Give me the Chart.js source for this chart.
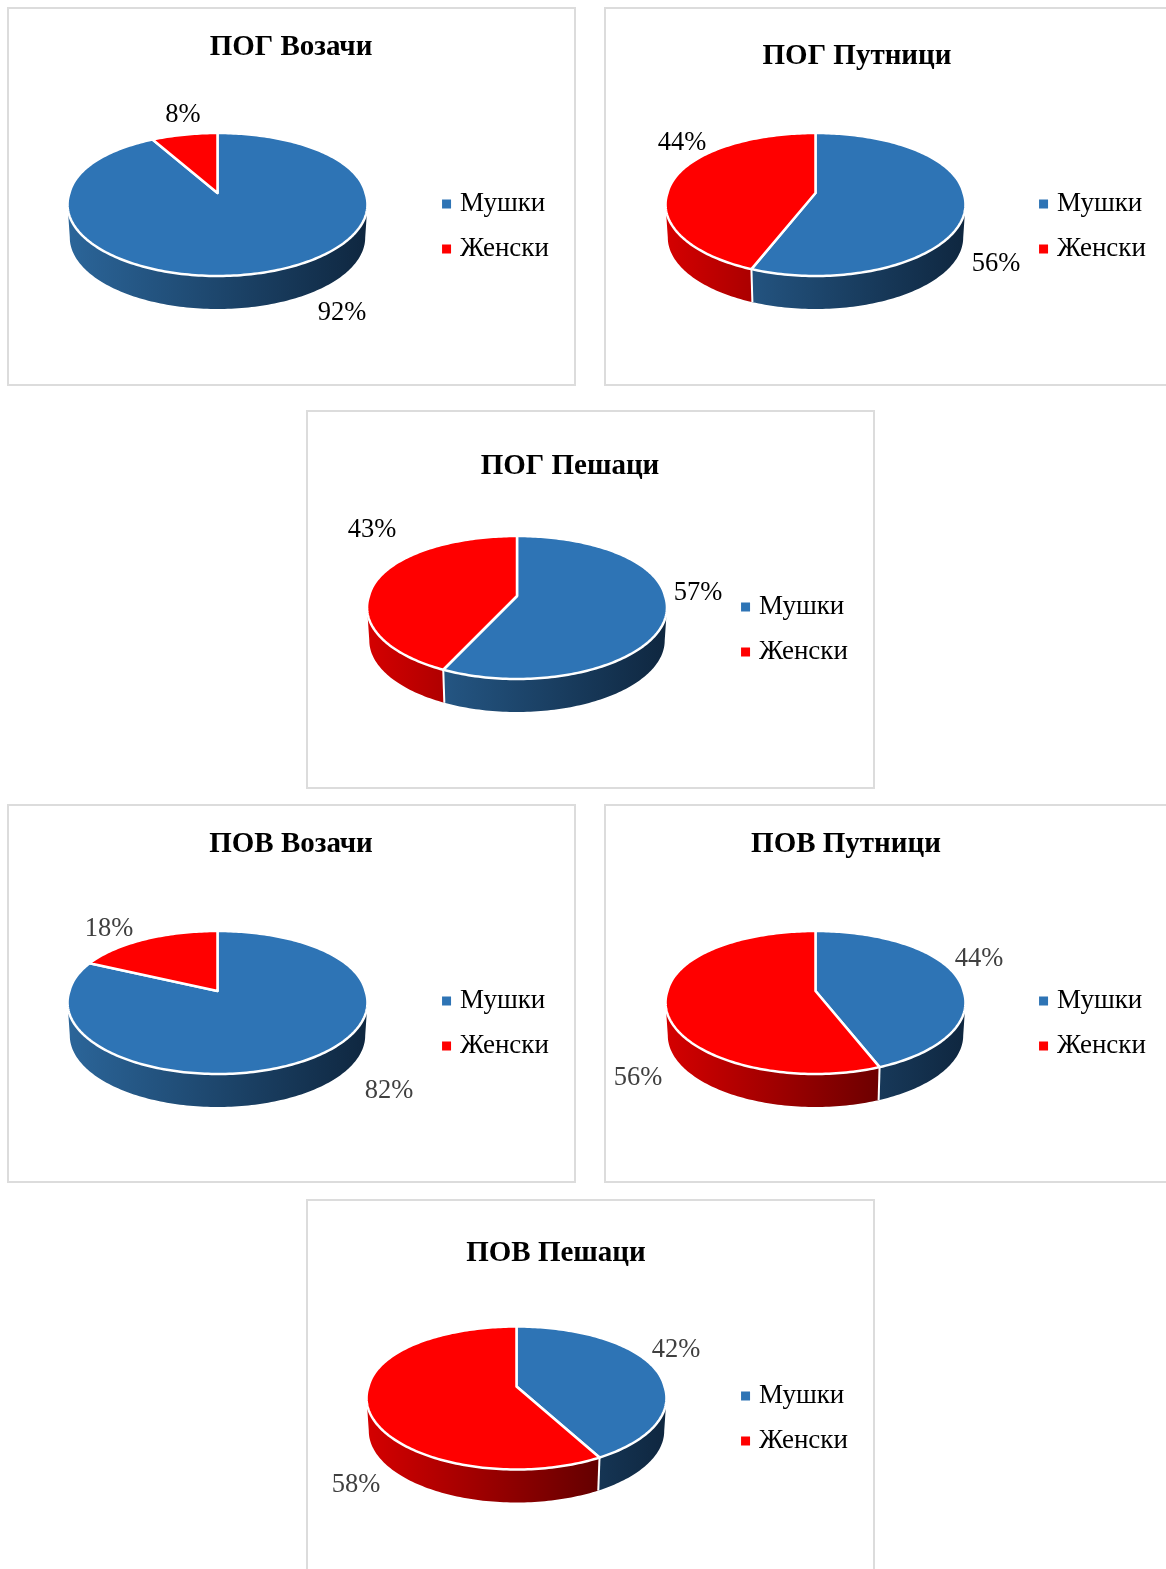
<!DOCTYPE html>
<html>
<head>
<meta charset="utf-8">
<title>ПОГ / ПОВ</title>
<script src="https://cdn.jsdelivr.net/npm/chart.js@4"></script>
<style>
    html, body { margin: 0; padding: 0; background: #fff; overflow: hidden; width: 1166px; height: 1569px; }
    .panel { position: absolute; box-sizing: border-box; width: 569px; height: 379px; border: 2px solid #dcdcdc; background: #fff; }
    .panel canvas { position: absolute; left: 0; top: 0; }
</style>
</head>
<body>
<script>
// Data
const categories = ['Мушки', 'Женски'];
const chartTitles = ['ПОГ Возачи', 'ПОГ Путници', 'ПОГ Пешаци', 'ПОВ Возачи', 'ПОВ Путници', 'ПОВ Пешаци'];
const maleShares = [92, 56, 57, 82, 44, 42];
const femaleShares = [8, 44, 43, 18, 56, 58];
const sliceColors = ['#2e74b5', '#ff0000'];
const labelColors = ['#000000', '#000000', '#000000', '#404040', '#404040', '#404040'];

// Layout, in page pixels
const panelCorners = [[7, 7], [604, 7], [306, 410], [7, 804], [604, 804], [306, 1199]];
const pieCenters = [[217.5, 204.5], [815.5, 204.5], [517, 607.5], [217.5, 1002.5], [815.5, 1002.5], [516.5, 1398]];
const titleSpots = [[291, 48], [857, 57], [570, 467], [291, 845], [846, 845], [556, 1254]];
const legendSpots = [[442, 204], [1039, 204], [741, 607], [442, 1001], [1039, 1001], [741, 1396]];
const maleLabelSpots = [[342, 313], [996, 264], [698, 593], [389, 1091], [979, 959], [676, 1350]];
const femaleLabelSpots = [[183, 115], [682, 143], [372, 530], [109, 929], [638, 1078], [356, 1485]];

const FONT = '"Liberation Serif", "Times New Roman", serif';
const PIE_RADIUS = 148;
const WALL_DEPTH = 33;
const TITLE_SIZE = 29;
const LEGEND_SIZE = 27;

// Perspective of the top face
const FLATTEN = 0.483;
const APEX_SHIFT = -0.0777;
const FORESHORTEN = -0.161;
// the wall only shows between these two angles
const WALL_FROM = 0.16;
const WALL_TO = Math.PI - 0.16;

function rimPoint(arc, angle, lower) {
    const u = Math.cos(angle);
    const v = Math.sin(angle);
    const w = 1 + FORESHORTEN * v;
    const wx = w > 1 ? Math.pow(w, 0.7) : w;
    const r = arc.outerRadius;
    const squeeze = lower ? 0.985 : 1;
    return {
        x: arc.x + squeeze * r * u / wx,
        y: arc.y + r * (FLATTEN * v + APEX_SHIFT) / w + (lower ? WALL_DEPTH : 0)
    };
}

function traceRim(ctx, arc, from, to, lower) {
    const steps = Math.max(2, Math.ceil(Math.abs(to - from) / 0.02));
    for (let s = 0; s <= steps; s++) {
        const p = rimPoint(arc, from + (to - from) * s / steps, lower);
        ctx.lineTo(p.x, p.y);
    }
}

function wallGradient(ctx, arc, index) {
    const g = ctx.createLinearGradient(arc.x - arc.outerRadius, 0, arc.x + arc.outerRadius, 0);
    if (index === 0) {
        g.addColorStop(0, '#2b6599');
        g.addColorStop(1, '#0f2740');
    } else {
        g.addColorStop(0, '#d40000');
        g.addColorStop(1, '#440000');
    }
    return g;
}

function makePiePlugin(i) {
    const ox = panelCorners[i][0] + 2;
    const oy = panelCorners[i][1] + 2;
    return {
        id: 'pie3d',
        afterLayout(chart) {
            // put the pie, title and legend where the reference has them
            const cx = pieCenters[i][0] - ox;
            const cy = pieCenters[i][1] - oy;
            chart.chartArea = {
                left: cx - PIE_RADIUS, right: cx + PIE_RADIUS,
                top: cy - PIE_RADIUS, bottom: cy + PIE_RADIUS,
                width: PIE_RADIUS * 2, height: PIE_RADIUS * 2
            };
            const title = chart.titleBlock;
            title.left = titleSpots[i][0] - ox - 200;
            title.right = titleSpots[i][0] - ox + 200;
            title.top = titleSpots[i][1] - oy - TITLE_SIZE * 0.6;
            title.bottom = title.top + TITLE_SIZE * 1.2;

            const legend = chart.legend;
            const pad = legend.options.labels.padding;
            legend.left = legendSpots[i][0] - ox + 4.5 - pad;
            legend.right = legend.left + 160;
            legend.top = legendSpots[i][1] - oy - LEGEND_SIZE / 2 - pad;
            legend.bottom = legend.top + 160;
        },
        beforeDatasetDraw(chart, args) {
            const ctx = chart.ctx;
            const arcs = args.meta.data;

            // side walls, front part only
            arcs.forEach((arc, index) => {
                const from = Math.max(arc.startAngle, WALL_FROM);
                const to = Math.min(arc.endAngle, WALL_TO);
                if (to <= from) return;
                ctx.beginPath();
                traceRim(ctx, arc, from, to, false);
                traceRim(ctx, arc, to, from, true);
                ctx.closePath();
                ctx.fillStyle = wallGradient(ctx, arc, index);
                ctx.fill();
            });
            arcs.forEach(arc => {
                if (arc.startAngle > WALL_FROM && arc.startAngle < WALL_TO) {
                    const a = rimPoint(arc, arc.startAngle, false);
                    const b = rimPoint(arc, arc.startAngle, true);
                    ctx.beginPath();
                    ctx.moveTo(a.x, a.y);
                    ctx.lineTo(b.x, b.y);
                    ctx.strokeStyle = '#ffffff';
                    ctx.lineWidth = 2;
                    ctx.stroke();
                }
            });

            // top face
            arcs.forEach((arc, index) => {
                ctx.beginPath();
                ctx.moveTo(arc.x, arc.y + arc.outerRadius * APEX_SHIFT);
                traceRim(ctx, arc, arc.startAngle, arc.endAngle, false);
                ctx.closePath();
                ctx.fillStyle = sliceColors[index];
                ctx.fill();
                ctx.strokeStyle = '#ffffff';
                ctx.lineWidth = 2.5;
                ctx.lineJoin = 'round';
                ctx.stroke();
            });

            // percent labels
            ctx.font = '26.5px ' + FONT;
            ctx.fillStyle = labelColors[i];
            ctx.textAlign = 'center';
            ctx.textBaseline = 'middle';
            const values = chart.data.datasets[0].data;
            ctx.fillText(values[0] + '%', maleLabelSpots[i][0] - ox, maleLabelSpots[i][1] - oy);
            ctx.fillText(values[1] + '%', femaleLabelSpots[i][0] - ox, femaleLabelSpots[i][1] - oy);
            return false;
        }
    };
}

function createChart(i) {
    const panel = document.createElement('div');
    panel.className = 'panel';
    panel.style.left = panelCorners[i][0] + 'px';
    panel.style.top = panelCorners[i][1] + 'px';
    const canvas = document.createElement('canvas');
    canvas.width = 565;
    canvas.height = 375;
    panel.appendChild(canvas);
    document.body.appendChild(panel);

    return new Chart(canvas.getContext('2d'), {
        type: 'pie',
        data: {
            labels: categories,
            datasets: [{
                data: [maleShares[i], femaleShares[i]],
                backgroundColor: sliceColors,
                borderWidth: 0
            }]
        },
        options: {
            responsive: false,
            animation: false,
            events: [],
            plugins: {
                tooltip: { enabled: false },
                title: {
                    display: true,
                    text: chartTitles[i],
                    color: '#000000',
                    padding: 0,
                    font: { family: FONT, size: TITLE_SIZE, weight: 'bold', lineHeight: 1.2 }
                },
                legend: {
                    display: true,
                    position: 'right',
                    align: 'start',
                    labels: {
                        color: '#000000',
                        usePointStyle: true,
                        pointStyle: 'rect',
                        boxWidth: 0.1,
                        boxHeight: 9,
                        padding: 18,
                        font: { family: FONT, size: LEGEND_SIZE }
                    }
                }
            }
        },
        plugins: [makePiePlugin(i)]
    });
}

chartTitles.forEach((t, i) => createChart(i));
</script>
</body>
</html>
